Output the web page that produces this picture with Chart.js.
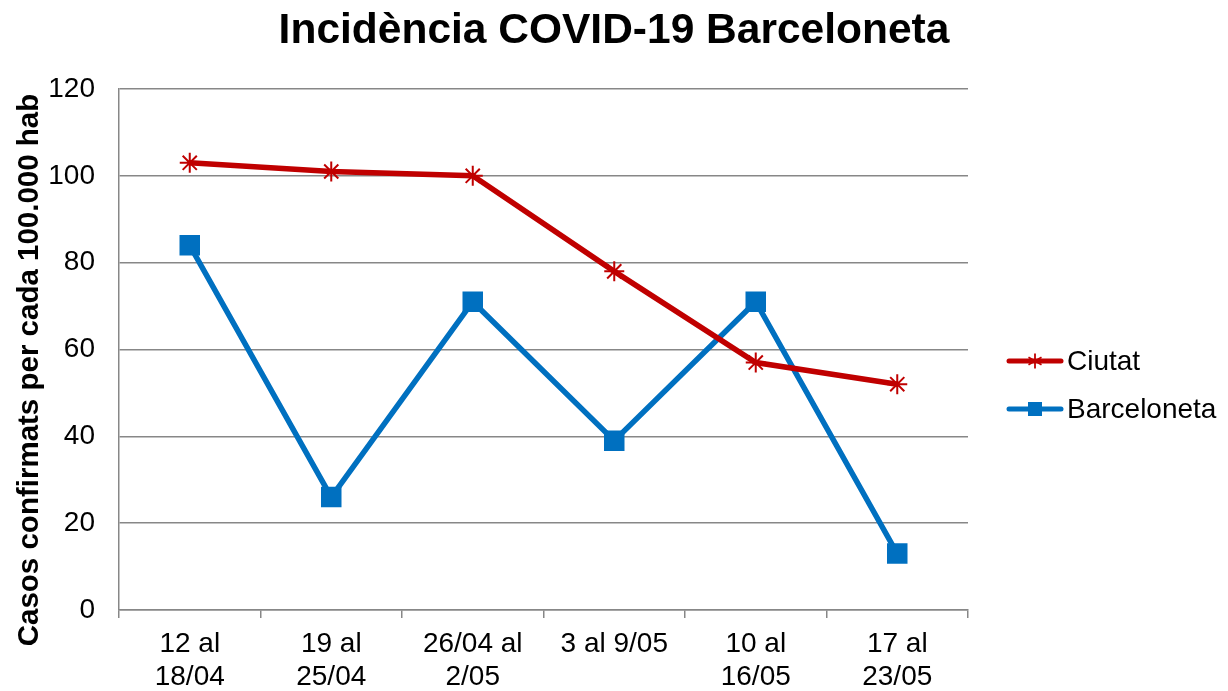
<!DOCTYPE html>
<html>
<head>
<meta charset="utf-8">
<script src="https://cdn.jsdelivr.net/npm/chart.js@4.4.1/dist/chart.umd.min.js"></script>
<style>
  html, body { margin: 0; padding: 0; background: #ffffff; }
  #wrap { width: 1228px; height: 691px; position: relative; }
</style>
</head>
<body>
<div id="wrap"><canvas id="c" width="1228" height="691"></canvas></div>
<script>
const titleText = 'Incidència COVID-19 Barceloneta';
const yAxisTitle = 'Casos confirmats per cada 100.000 hab';
const categories = [['12 al', '18/04'], ['19 al', '25/04'], ['26/04 al', '2/05'], '3 al 9/05', ['10 al', '16/05'], ['17 al', '23/05']];
const ciutatValues = [103, 101, 100, 78, 57, 52];
const barcelonetaValues = [84, 26, 71, 39, 71, 13];
const seriesNames = ['Ciutat', 'Barceloneta'];
const yTicks = [0, 20, 40, 60, 80, 100, 120];

const RED = '#C00000';
const BLUE = '#0070C0';
const GRID = '#878787';
const FONT = '"Liberation Sans", Arial, sans-serif';

const legendPlugin = {
  id: 'customLegend',
  afterDraw(chart) {
    const ctx = chart.ctx;
    const items = [
      { name: seriesNames[0], color: RED, style: 'star', y: 361 },
      { name: seriesNames[1], color: BLUE, style: 'rect', y: 409 }
    ];
    ctx.save();
    items.forEach(it => {
      ctx.strokeStyle = it.color;
      ctx.lineWidth = 5;
      ctx.lineCap = 'round';
      ctx.beginPath();
      ctx.moveTo(1009, it.y);
      ctx.lineTo(1061, it.y);
      ctx.stroke();
      if (it.style === 'rect') {
        ctx.fillStyle = it.color;
        ctx.fillRect(1035 - 7, it.y - 7, 14, 14);
      } else {
        ctx.lineWidth = 1.8;
        ctx.lineCap = 'butt';
        const r = 7.5;
        ctx.beginPath();
        ctx.moveTo(1035, it.y - r); ctx.lineTo(1035, it.y + r);
        ctx.moveTo(1035 - r * 0.87, it.y - r * 0.5); ctx.lineTo(1035 + r * 0.87, it.y + r * 0.5);
        ctx.moveTo(1035 - r * 0.87, it.y + r * 0.5); ctx.lineTo(1035 + r * 0.87, it.y - r * 0.5);
        ctx.stroke();
      }
      ctx.fillStyle = '#000000';
      ctx.font = '28px ' + FONT;
      ctx.textAlign = 'left';
      ctx.textBaseline = 'middle';
      ctx.fillText(it.name, 1067, it.y + 1);
    });
    ctx.restore();
  }
};

new Chart(document.getElementById('c'), {
  type: 'line',
  data: {
    labels: categories,
    datasets: [
      {
        label: seriesNames[0],
        data: ciutatValues,
        borderColor: RED,
        backgroundColor: RED,
        borderWidth: 5.5,
        pointStyle: 'star',
        pointRadius: 10,
        pointBorderWidth: 2,
        pointBorderColor: RED,
        tension: 0
      },
      {
        label: seriesNames[1],
        data: barcelonetaValues,
        borderColor: BLUE,
        backgroundColor: BLUE,
        borderWidth: 5.5,
        pointStyle: 'rect',
        pointRadius: 14.5,
        pointBorderWidth: 0,
        pointBackgroundColor: BLUE,
        tension: 0
      }
    ]
  },
  options: {
    responsive: false,
    animation: false,
    layout: { padding: { left: 0, right: 0, top: 0, bottom: 0 } },
    plugins: {
      legend: { display: false },
      tooltip: { enabled: false },
      title: {
        display: true,
        text: titleText,
        color: '#000000',
        font: { family: FONT, size: 42.5, weight: 'bold' },
        padding: { top: 6, bottom: 32 }
      }
    },
    scales: {
      x: {
        offset: true,
        grid: {
          offset: true,
          drawOnChartArea: false,
          drawTicks: true,
          tickLength: 8,
          color: GRID,
          lineWidth: 1.5
        },
        border: { display: true, color: GRID, width: 1.5 },
        ticks: {
          color: '#000000',
          font: { family: FONT, size: 28, lineHeight: 1.18 },
          padding: 10,
          maxRotation: 0,
          autoSkip: false
        },
        afterFit(scale) { scale.height = 81; }
      },
      y: {
        min: 0,
        max: 120,
        afterBuildTicks(scale) { scale.ticks = yTicks.map(v => ({ value: v })); },
        grid: {
          color: GRID,
          lineWidth: 1.5,
          drawTicks: false
        },
        border: { display: true, color: GRID, width: 1.5 },
        ticks: {
          color: '#000000',
          font: { family: FONT, size: 28 },
          padding: 24
        },
        title: {
          display: true,
          text: yAxisTitle + '     ',
          color: '#000000',
          font: { family: FONT, size: 29.5, weight: 'bold' },
          padding: { top: 12, bottom: 0 }
        },
        afterFit(scale) { scale.width = 119; }
      },
      legendSpace: {
        type: 'linear',
        position: 'right',
        display: true,
        grid: { display: false, drawTicks: false },
        border: { display: false },
        ticks: { display: false },
        afterFit(scale) { scale.width = 260; }
      }
    }
  },
  plugins: [legendPlugin]
});
</script>
</body>
</html>
